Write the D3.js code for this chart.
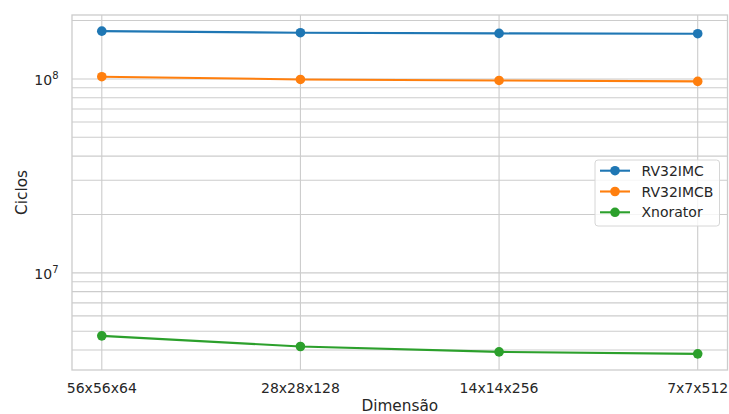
<!DOCTYPE html>
<html>
<head>
<meta charset="utf-8">
<script src="https://cdn.jsdelivr.net/npm/d3@7"></script>
<style>
  html, body { margin: 0; padding: 0; background: #ffffff; }
  svg { display: block; font-family: "DejaVu Sans", sans-serif; }
</style>
</head>
<body>
<svg id="chart" width="729" height="414"></svg>
<script>
// Cycle counts per layer dimension for each core variant
const dimensions = ["56x56x64", "28x28x128", "14x14x256", "7x7x512"];
const rv32imc  = [1.764e8, 1.731e8, 1.717e8, 1.711e8];
const rv32imcb = [1.027e8, 9.94e7, 9.82e7, 9.71e7];
const xnorator = [4.73e6, 4.17e6, 3.91e6, 3.82e6];
const seriesNames = ["RV32IMC", "RV32IMCB", "Xnorator"];
const seriesColors = ["#1f77b4", "#ff7f0e", "#2ca02c"];
const yMajorTicks = [1e7, 1e8];
const xLabel = "Dimensão";
const yLabel = "Ciclos";

const series = [rv32imc, rv32imcb, xnorator].map((values, i) => ({
  name: seriesNames[i], color: seriesColors[i], values
}));

const svg = d3.select("#chart");
const plot = { left: 72, right: 727.5, top: 15, bottom: 370 };

const x = d3.scalePoint()
  .domain(dimensions)
  .range([plot.left, plot.right])
  .padding(0.15);

// log axis with 5% margins in log space
const all = series.flatMap(s => s.values);
const lo = Math.log10(d3.min(all)), hi = Math.log10(d3.max(all));
const pad = (hi - lo) * 0.05;
const y = d3.scaleLog()
  .domain([Math.pow(10, lo - pad), Math.pow(10, hi + pad)])
  .range([plot.bottom, plot.top]);

const gridColor = "#cccccc";

// horizontal grid: majors and minors of the log axis
const [d0, d1] = y.domain();
const gridVals = [];
for (let e = Math.floor(Math.log10(d0)); e <= Math.ceil(Math.log10(d1)); e++) {
  for (let m = 1; m <= 9; m++) {
    const v = m * Math.pow(10, e);
    if (v >= d0 && v <= d1) gridVals.push(v);
  }
}
svg.append("g").selectAll("line").data(gridVals).join("line")
  .attr("x1", plot.left).attr("x2", plot.right)
  .attr("y1", d => y(d)).attr("y2", d => y(d))
  .attr("stroke", gridColor).attr("stroke-width", 1.1);

// vertical grid at each category
svg.append("g").selectAll("line").data(dimensions).join("line")
  .attr("x1", d => x(d)).attr("x2", d => x(d))
  .attr("y1", plot.top).attr("y2", plot.bottom)
  .attr("stroke", gridColor).attr("stroke-width", 1.1);

// frame
svg.append("rect")
  .attr("x", plot.left).attr("y", plot.top)
  .attr("width", plot.right - plot.left).attr("height", plot.bottom - plot.top)
  .attr("fill", "none").attr("stroke", gridColor).attr("stroke-width", 1.3);

// x tick labels
svg.append("g").selectAll("text").data(dimensions).join("text")
  .attr("x", d => x(d)).attr("y", 393)
  .attr("text-anchor", "middle")
  .attr("font-size", 14).attr("fill", "#262626")
  .text(d => d);

// y tick labels as 10^n
const yt = svg.append("g").selectAll("text").data(yMajorTicks).join("text")
  .attr("x", 58.5).attr("y", d => y(d) + 6.5)
  .attr("text-anchor", "end")
  .attr("font-size", 14).attr("fill", "#262626");
yt.append("tspan").text("10");
yt.append("tspan").attr("dy", -6.5).attr("font-size", 10)
  .text(d => Math.round(Math.log10(d)));

// axis titles
svg.append("text")
  .attr("x", (plot.left + plot.right) / 2).attr("y", 411)
  .attr("text-anchor", "middle").attr("font-size", 15.3).attr("fill", "#262626")
  .text(xLabel);
svg.append("text")
  .attr("transform", `translate(26.5,${(plot.top + plot.bottom) / 2}) rotate(-90)`)
  .attr("text-anchor", "middle").attr("font-size", 15.3).attr("fill", "#262626")
  .text(yLabel);

// lines and markers
const line = d3.line()
  .x((v, i) => x(dimensions[i]))
  .y(v => y(v));

const gs = svg.append("g").selectAll("g").data(series).join("g");
gs.append("path")
  .attr("d", s => line(s.values))
  .attr("fill", "none").attr("stroke", s => s.color).attr("stroke-width", 2.1);
gs.selectAll("circle").data(s => s.values.map(v => ({ v, c: s.color }))).join("circle")
  .attr("cx", (d, i) => x(dimensions[i])).attr("cy", d => y(d.v))
  .attr("r", 4.8).attr("fill", d => d.c);

// legend
const lg = svg.append("g").attr("transform", "translate(595,160)");
lg.append("rect")
  .attr("width", 124.5).attr("height", 66).attr("rx", 3)
  .attr("fill", "white").attr("fill-opacity", 0.8)
  .attr("stroke", "#d6d6d6").attr("stroke-width", 1);
const items = lg.selectAll("g").data(series).join("g")
  .attr("transform", (d, i) => `translate(0,${10.7 + i * 20.8})`);
items.append("line")
  .attr("x1", 5).attr("x2", 35)
  .attr("stroke", d => d.color).attr("stroke-width", 2.1);
items.append("circle")
  .attr("cx", 20).attr("r", 4.8).attr("fill", d => d.color);
items.append("text")
  .attr("x", 46.5).attr("y", 5)
  .attr("font-size", 14).attr("fill", "#262626")
  .text(d => d.name);
</script>
</body>
</html>
